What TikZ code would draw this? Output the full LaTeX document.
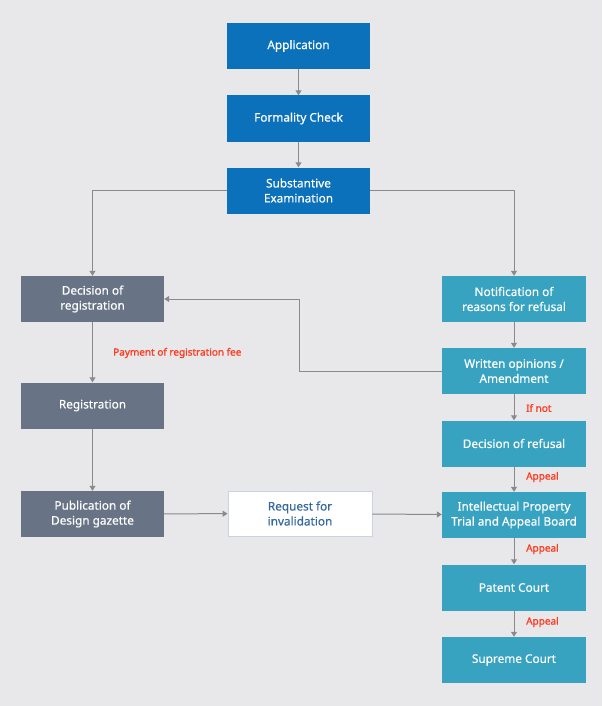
\documentclass[tikz,border=0pt]{standalone}
\usepackage{fontspec}
\setmainfont{Noto Sans}
\newfontfamily\boxfont[FakeBold=0.5]{Noto Sans}
\newfontfamily\labfont[FakeBold=1.2]{Noto Sans}
\usetikzlibrary{arrows.meta}
\definecolor{bgc}{HTML}{E8E8EA}
\definecolor{bluebox}{HTML}{0B71BA}
\definecolor{graybox}{HTML}{687486}
\definecolor{tealbox}{HTML}{37A3C1}
\definecolor{redlab}{HTML}{FF3B21}
\definecolor{reqtext}{HTML}{3469A0}
\definecolor{reqborder}{HTML}{C8D2E0}
\definecolor{linec}{HTML}{8A8A8A}
\tikzset{
  box/.style={minimum width=143pt, minimum height=46pt, inner sep=0pt, align=center,
     text=white, font=\boxfont\fontsize{11.8}{15}\selectfont},
  bluestyle/.style={box, fill=bluebox},
  graystyle/.style={box, fill=graybox},
  tealstyle/.style={box, fill=tealbox},
  reqstyle/.style={box, fill=white, draw=reqborder, line width=0.8pt, text=reqtext},
  arr/.style={draw=linec, line width=1pt, -{Triangle[width=6pt,length=5pt]}},
  lab/.style={text=redlab, font=\labfont\fontsize{10}{12}\selectfont, anchor=west, inner sep=0pt}
}
\begin{document}
\begin{tikzpicture}[x=1pt,y=-1pt]
\fill[bgc] (0,0) rectangle (602,706);
\useasboundingbox (0,0) rectangle (602,706);
% blue column
\node[bluestyle] (app) at (298.5,46) {Application};
\node[bluestyle] (form) at (298.5,118.5) {Formality Check};
\node[bluestyle] (sub) at (298.5,190.5) {Substantive\\Examination};
% left column
\node[graystyle] (dec) at (92.5,299) {Decision of\\registration};
\node[graystyle] (reg) at (92.5,405.5) {Registration};
\node[graystyle] (pub) at (92.5,514) {Publication of\\Design gazette};
% middle
\node[reqstyle, minimum width=144pt, minimum height=45pt] (req) at (300,513.5) {Request for\\invalidation};
% right column
\node[tealstyle, minimum width=144pt] (notif) at (514,299) {Notification of\\reasons for refusal};
\node[tealstyle, minimum width=144pt] (writ) at (514,371) {Written opinions /\\Amendment};
\node[tealstyle, minimum width=144pt] (refu) at (514,443.5) {Decision of refusal};
\node[tealstyle, minimum width=144pt] (iptab) at (514,515) {Intellectual Property\\Trial and Appeal Board};
\node[tealstyle, minimum width=144pt] (pat) at (514,587.5) {Patent Court};
\node[tealstyle, minimum width=144pt] (sup) at (514,660) {Supreme Court};
% connectors
\draw[arr] (app) -- (form);
\draw[arr] (form) -- (sub);
\draw[arr] (sub.west) -| (dec.north);
\draw[arr] (sub.east) -| (notif.north);
\draw[arr] (notif) -- (writ);
\draw[arr] (writ) -- (refu);
\draw[arr] (refu) -- (iptab);
\draw[arr] (iptab) -- (pat);
\draw[arr] (pat) -- (sup);
\coordinate (corner) at (299,371);
\draw[arr] (writ.west) -- (corner) |- (dec.east);
\draw[arr] (dec) -- (reg);
\draw[arr] (reg) -- (pub);
\draw[arr] (pub) -- (req);
\draw[arr] (req) -- (iptab);
% labels
\node[lab] (l1) at (113,353) {Payment of registration fee};
\node[lab] (l2) at (526,408) {If not};
\node[lab] (l3) at (526,477) {Appeal};
\node[lab] (l4) at (526,549) {Appeal};
\node[lab] (l5) at (526,622) {Appeal};
\end{tikzpicture}
\end{document}
